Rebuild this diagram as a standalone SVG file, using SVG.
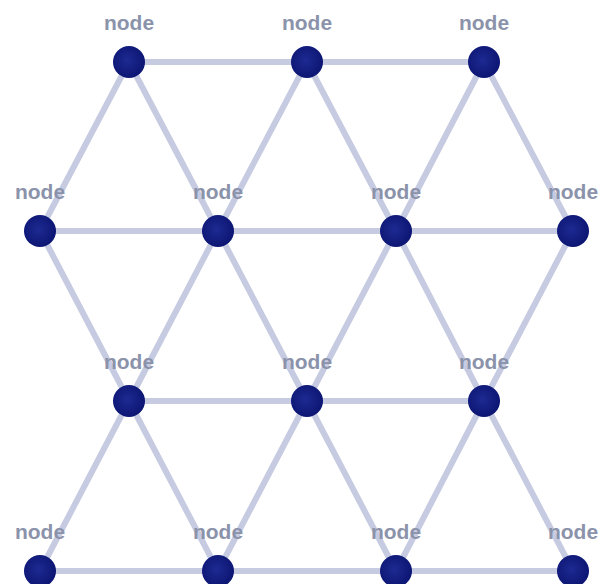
<svg xmlns="http://www.w3.org/2000/svg" width="602" height="584" viewBox="0 0 602 584">
<defs>
<radialGradient id="g" cx="0.45" cy="0.45" r="0.6">
<stop offset="0" stop-color="#1e2a92"/>
<stop offset="1" stop-color="#0b1470"/>
</radialGradient>
<style>
.e{stroke:#c6cbe2;stroke-width:6;stroke-linecap:round;fill:none}
.n circle{fill:url(#g)}
.n text{font-family:"Liberation Sans",Arial,sans-serif;font-weight:bold;font-size:21px;fill:#8b93ab;text-anchor:middle}
</style>
</defs>
<rect width="602" height="584" fill="#fff"/>
<g id="connectors" class="e">
<line x1="129" y1="62" x2="307" y2="62"/><line x1="307" y1="62" x2="484" y2="62"/>
<line x1="40" y1="231" x2="218" y2="231"/><line x1="218" y1="231" x2="396" y2="231"/><line x1="396" y1="231" x2="573" y2="231"/>
<line x1="129" y1="401" x2="307" y2="401"/><line x1="307" y1="401" x2="484" y2="401"/>
<line x1="40" y1="571" x2="218" y2="571"/><line x1="218" y1="571" x2="396" y2="571"/><line x1="396" y1="571" x2="573" y2="571"/>
<line x1="129" y1="62" x2="40" y2="231"/><line x1="129" y1="62" x2="218" y2="231"/>
<line x1="307" y1="62" x2="218" y2="231"/><line x1="307" y1="62" x2="396" y2="231"/>
<line x1="484" y1="62" x2="396" y2="231"/><line x1="484" y1="62" x2="573" y2="231"/>
<line x1="40" y1="231" x2="129" y2="401"/><line x1="218" y1="231" x2="129" y2="401"/>
<line x1="218" y1="231" x2="307" y2="401"/><line x1="396" y1="231" x2="307" y2="401"/>
<line x1="396" y1="231" x2="484" y2="401"/><line x1="573" y1="231" x2="484" y2="401"/>
<line x1="129" y1="401" x2="40" y2="571"/><line x1="129" y1="401" x2="218" y2="571"/>
<line x1="307" y1="401" x2="218" y2="571"/><line x1="307" y1="401" x2="396" y2="571"/>
<line x1="484" y1="401" x2="396" y2="571"/><line x1="484" y1="401" x2="573" y2="571"/>
</g>
<g id="n1" class="n"><text x="129" y="30">node</text><circle cx="129" cy="62" r="16"/></g>
<g id="n2" class="n"><text x="307" y="30">node</text><circle cx="307" cy="62" r="16"/></g>
<g id="n3" class="n"><text x="484" y="30">node</text><circle cx="484" cy="62" r="16"/></g>
<g id="n4" class="n"><text x="40" y="199">node</text><circle cx="40" cy="231" r="16"/></g>
<g id="n5" class="n"><text x="218" y="199">node</text><circle cx="218" cy="231" r="16"/></g>
<g id="n6" class="n"><text x="396" y="199">node</text><circle cx="396" cy="231" r="16"/></g>
<g id="n7" class="n"><text x="573" y="199">node</text><circle cx="573" cy="231" r="16"/></g>
<g id="n8" class="n"><text x="129" y="369">node</text><circle cx="129" cy="401" r="16"/></g>
<g id="n9" class="n"><text x="307" y="369">node</text><circle cx="307" cy="401" r="16"/></g>
<g id="n10" class="n"><text x="484" y="369">node</text><circle cx="484" cy="401" r="16"/></g>
<g id="n11" class="n"><text x="40" y="539">node</text><circle cx="40" cy="571" r="16"/></g>
<g id="n12" class="n"><text x="218" y="539">node</text><circle cx="218" cy="571" r="16"/></g>
<g id="n13" class="n"><text x="396" y="539">node</text><circle cx="396" cy="571" r="16"/></g>
<g id="n14" class="n"><text x="573" y="539">node</text><circle cx="573" cy="571" r="16"/></g>
</svg>
